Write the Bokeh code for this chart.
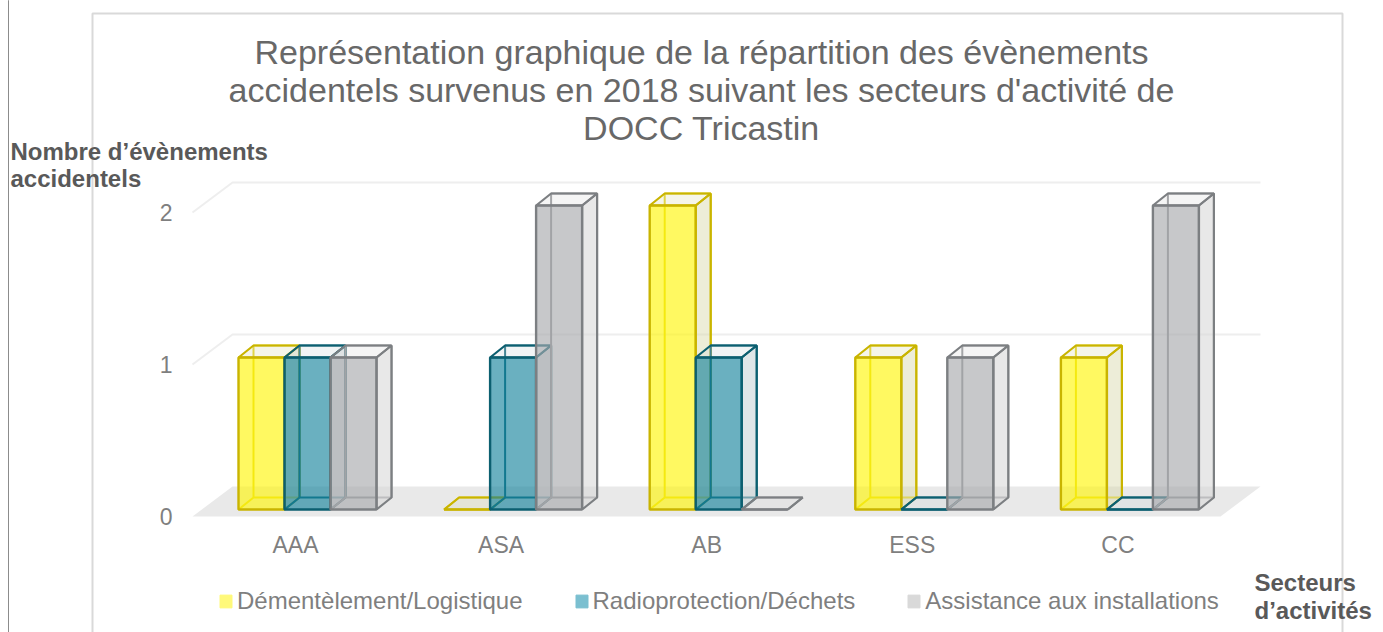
from bokeh.plotting import figure
from bokeh.models import Range1d, LinearAxis, FixedTicker, Label, BoxAnnotation, Legend, LegendItem, ColumnDataSource
from bokeh.embed import file_html
from bokeh.resources import INLINE

categories = ["AAA", "ASA", "AB", "ESS", "CC"]
series_names = ["Démentèlement/Logistique", "Radioprotection/Déchets", "Assistance aux installations"]
demantelement = [1, 0, 2, 1, 1]
radioprotection = [1, 1, 1, 0, 0]
assistance = [1, 2, 0, 1, 2]
y_ticks = [0, 1, 2]
title_lines = ["Représentation graphique de la répartition des évènements",
               "accidentels survenus en 2018 suivant les secteurs d'activité de",
               "DOCC Tricastin"]

W, H = 1383, 632
PXX, PXY = 205.6, 152.0          # pixels per category / per unit
X0, Y0 = 295.0, 516.0            # page pixel of category 0 / value 0
def dx(px): return px / PXX
def dy(px): return px / PXY
def xv(page): return (page - X0) / PXX
def yv(page): return (Y0 - page) / PXY

p = figure(width=W, height=H, output_backend="svg", toolbar_location=None,
           x_range=Range1d(xv(0), xv(W)), y_range=Range1d(yv(H), yv(0)),
           x_axis_type=None, y_axis_type=None, min_border=0,
           outline_line_color=None, background_fill_color="white", border_fill_color="white")
p.grid.visible = False

GREY = "#595959"
FONT = "Liberation Sans"

# chart frame and page rule (screen y counts from the bottom here)
p.add_layout(BoxAnnotation(left=92, right=1342, top=H - 13, bottom=-20,
                           left_units="screen", right_units="screen", top_units="screen", bottom_units="screen",
                           fill_alpha=0, line_color="#D9D9D9", line_alpha=1, line_width=2, level="underlay"))
p.add_layout(BoxAnnotation(left=8, right=8, top=H + 5, bottom=-5,
                           left_units="screen", right_units="screen", top_units="screen", bottom_units="screen",
                           fill_alpha=0, line_color="#8C8C8C", line_alpha=1, line_width=1, level="underlay"))

# floor and back-wall grid
depth_x, depth_y = 40, 30
left_x, right_x = 192, 1260
floor_x = [xv(left_x), xv(left_x + depth_x), xv(right_x), xv(right_x - depth_x)]
floor_y = [0, dy(depth_y), dy(depth_y), 0]
p.patch(floor_x, floor_y, fill_color="#E9E9E9", line_color=None)
grid_ticks = y_ticks[1:]
p.multi_line([[xv(left_x), xv(left_x + depth_x), xv(right_x)] for _ in grid_ticks],
             [[v, v + dy(depth_y), v + dy(depth_y)] for v in grid_ticks],
             line_color="#EEEEEE", line_width=2)

# 3-D bars
bar_w, bar_dx, bar_dy = dx(46), dx(15), dy(12)
base = dy(7)
bar_start = dx(-57)
styles = [
    dict(values=demantelement, front="#FFF500", front_a=0.62, line="#C9B400", back="#E3D52A", side="#D8D8A8", side_a=0.45, key="#FFF97A"),
    dict(values=radioprotection, front="#0F7F9A", front_a=0.62, line="#0C5F70", back="#1A6C7E", side="#C6D2D6", side_a=0.55, key="#7BBFD0"),
    dict(values=assistance, front="#A9AAAD", front_a=0.65, line="#7C7F82", back="#939598", side="#D9D9D9", side_a=0.6, key="#D9D9D9"),
]
legend_items = []
nan = float("nan")
for s_i, st in enumerate(styles):
    back_x, back_y, side_x, side_y, top_x, top_y, front_x, front_y = [], [], [], [], [], [], [], []
    for c_i, v in enumerate(st["values"]):
        x = c_i + bar_start + s_i * bar_w
        t = base + v
        # hidden faces: back rectangle joined to the front-left and floor corners
        back_x.append([x, x + bar_dx, x + bar_dx, x + bar_w + bar_dx, x + bar_w + bar_dx, x + bar_dx, x + bar_dx, x])
        back_y.append([base, base + bar_dy, t + bar_dy, t + bar_dy, base + bar_dy, base + bar_dy, base + bar_dy, base])
        side_x.append([x + bar_w, x + bar_w + bar_dx, x + bar_w + bar_dx, x + bar_w])
        side_y.append([base, base + bar_dy, t + bar_dy, t])
        top_x.append([x, x + bar_dx, x + bar_w + bar_dx, x + bar_w])
        top_y.append([t, t + bar_dy, t + bar_dy, t])
        front_x.append([x, x + bar_w, x + bar_w, x])
        front_y.append([base, base, t, t])
    p.multi_line(back_x, back_y, line_color=st["back"], line_width=2)
    p.patches(side_x, side_y, fill_color=st["side"], fill_alpha=st["side_a"], line_color=st["line"], line_width=2.2)
    p.patches(top_x, top_y, fill_color=st["side"], fill_alpha=0.25, line_color=st["line"], line_width=2.2)
    p.patches(front_x, front_y, fill_color=st["front"], fill_alpha=st["front_a"], line_color=st["line"], line_width=2.4)
    key = p.quad(left="l", right="r", top="t", bottom="b",
                 source=ColumnDataSource(dict(l=[nan], r=[nan], t=[nan], b=[nan])),
                 fill_color=st["key"], line_color=st["key"], line_width=1)
    legend_items.append(LegendItem(label=series_names[s_i], renderers=[key]))

# axes, placed inside the frame
yax = LinearAxis(fixed_location=xv(192), ticker=FixedTicker(ticks=y_ticks),
                 axis_line_color=None, major_tick_line_color=None, minor_tick_line_color=None,
                 major_label_text_color="#7F7F7F", major_label_text_font=FONT,
                 major_label_text_font_size="23px", major_label_standoff=14)
p.add_layout(yax, "left")
xax = LinearAxis(fixed_location=yv(518), ticker=FixedTicker(ticks=list(range(len(categories)))),
                 major_label_overrides={i: c for i, c in enumerate(categories)},
                 axis_line_color=None, major_tick_line_color=None, minor_tick_line_color=None,
                 major_label_text_color="#7F7F7F", major_label_text_font=FONT,
                 major_label_text_font_size="23px", major_label_standoff=7)
p.add_layout(xax, "below")

# legend
legend = Legend(items=legend_items, orientation="horizontal", location=(218, H - 615),
                glyph_width=15, glyph_height=16, label_standoff=4, spacing=51,
                label_text_font=FONT, label_text_font_size="24px", label_text_color="#7F7F7F",
                background_fill_alpha=0, border_line_color=None, margin=0, padding=0)
p.add_layout(legend, "center")

# title and axis captions
def text(t, x, y, size, align="left", bold=False, color=GREY):
    p.add_layout(Label(x=x, y=H - y, x_units="screen", y_units="screen", text=t,
                       text_font=FONT, text_font_size=size, text_color=color, text_align=align,
                       text_baseline="middle", text_font_style="bold" if bold else "normal"))

for line, y in zip(title_lines, [51, 89, 127]):
    text(line, 701, y, "34px", "center", color="#686868")
text("Nombre d’évènements", 10, 151, "24px", bold=True)
text("accidentels", 10, 178, "24px", bold=True)
text("Secteurs", 1254, 582, "24px", bold=True)
text("d’activités", 1254, 610, "24px", bold=True)

open("out.html", "w").write(file_html(p, INLINE))
